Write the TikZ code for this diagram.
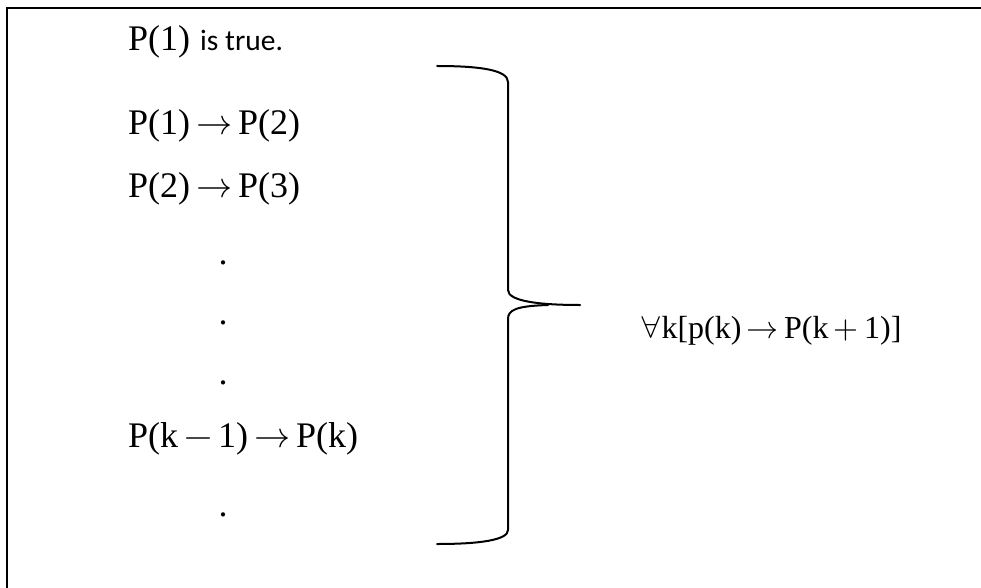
\documentclass[tikz,border=0pt]{standalone}
\usepackage{fontspec}
\usepackage{unicode-math}
\setmainfont{Liberation Serif}
\newfontfamily\calfont{Carlito}
\begin{document}
\begin{tikzpicture}[x=1pt,y=-1pt,
  row/.style={anchor=base west,inner sep=0pt,font=\fontsize{36}{40}\selectfont},
  dotn/.style={anchor=base,inner sep=0pt,font=\fontsize{36}{40}\selectfont},
  note/.style={anchor=base west,inner sep=0pt,font=\calfont\fontsize{29.5}{33}\selectfont},
  formula/.style={anchor=base west,inner sep=0pt,font=\fontsize{32}{36}\selectfont},
  brace/.style={line width=2pt,line cap=round,line join=round}]
\useasboundingbox (0,0) rectangle (981,588);
\draw[line width=2.2pt] (7,600) -- (7,8) -- (1000,8);
\node[row] (r1) at (128,51) {P(1)};
\node[note] (r1t) at (200,51) {is true.};
\node[row] (r2) at (128,135) {P(1)\,$\rightarrow$\,P(2)};
\node[row] (r3) at (128,197) {P(2)\,$\rightarrow$\,P(3)};
\node[dotn] (d1) at (223,264) {.};
\node[dotn] (d2) at (223,324) {.};
\node[dotn] (d3) at (223,384) {.};
\node[row] (r4) at (128,447) {P(k\,$-$\,1)\,$\rightarrow$\,P(k)};
\node[dotn] (d4) at (223,516) {.};
\node[formula] (f) at (640,338) {$\forall$k[p(k)\,$\rightarrow$\,P(k\,$+$\,1)]};
\draw[brace] (437,66) .. controls (480,66) and (508,70) .. (508,82) -- (508,290)
  .. controls (508,301) and (538,305) .. (580,305);
\draw[brace] (548,305) .. controls (516,306) and (508,310) .. (508,319) -- (508,530)
  .. controls (508,540) and (480,544) .. (437,544);
\end{tikzpicture}
\end{document}
